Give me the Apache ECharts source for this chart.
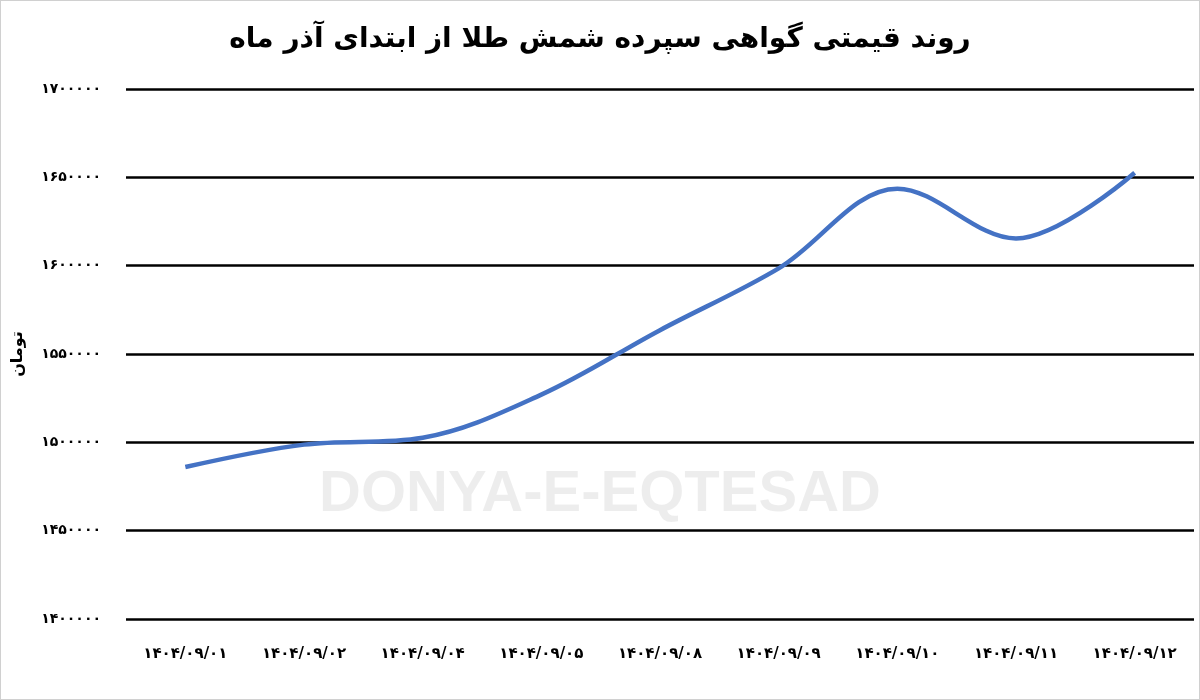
<!DOCTYPE html>
<html>
<head>
<meta charset="utf-8">
<script src="https://cdn.jsdelivr.net/npm/echarts@6/dist/echarts.min.js"></script>
<style>
html,body{margin:0;padding:0;background:#fff;}
#main{width:1198px;height:698px;border:1px solid #d0d0d0;}
</style>
</head>
<body>
<div id="main"></div>
<script>
var categories = ['۱۴۰۴/۰۹/۰۱','۱۴۰۴/۰۹/۰۲','۱۴۰۴/۰۹/۰۴','۱۴۰۴/۰۹/۰۵','۱۴۰۴/۰۹/۰۸','۱۴۰۴/۰۹/۰۹','۱۴۰۴/۰۹/۱۰','۱۴۰۴/۰۹/۱۱','۱۴۰۴/۰۹/۱۲'];
var prices = [1486000, 1498700, 1502600, 1527000, 1563500, 1598500, 1643600, 1615400, 1652600];

function toPersian(n) {
    return String(n).replace(/[0-9]/g, function (d) { return '۰۱۲۳۴۵۶۷۸۹'[d]; });
}

var myChart = echarts.init(document.getElementById('main'), null, { renderer: 'canvas' });

var option = {
    animation: false,
    textStyle: { fontFamily: 'DejaVu Sans' },
    title: {
        text: 'روند قیمتی گواهی سپرده شمش طلا از ابتدای آذر ماه',
        left: 'center',
        top: 20,
        textStyle: { fontSize: 28, fontWeight: 'bold', color: '#000', fontFamily: 'DejaVu Sans' }
    },
    graphic: [{
        type: 'text',
        left: 'center',
        top: 465,
        style: { text: 'DONYA-E-EQTESAD', fontSize: 58, fontWeight: 'bold', fill: 'rgba(0,0,0,0.07)', fontFamily: 'Liberation Sans' }
    }],
    grid: { left: 125, right: 5, top: 88, bottom: 80 },
    xAxis: {
        type: 'category',
        data: categories,
        boundaryGap: true,
        axisLine: { show: false },
        axisTick: { show: false },
        axisLabel: { color: '#000', fontSize: 15, fontWeight: 'bold', margin: 28 }
    },
    yAxis: {
        type: 'value',
        min: 1400000,
        max: 1700000,
        interval: 50000,
        name: 'تومان',
        nameLocation: 'middle',
        nameRotate: 90,
        nameGap: 100,
        nameTextStyle: { color: '#000', fontSize: 16, fontWeight: 'bold' },
        axisLabel: { color: '#000', fontSize: 14, fontWeight: 'bold', margin: 25, formatter: function (v) { return toPersian(v); } },
        splitLine: { lineStyle: { color: '#000', width: 2.5 } }
    },
    series: [{
        type: 'line',
        data: prices,
        smooth: 0.35,
        symbol: 'none',
        lineStyle: { color: '#4472C4', width: 4.5 }
    }]
};

myChart.setOption(option);
window.addEventListener('resize', myChart.resize);
</script>
</body>
</html>
